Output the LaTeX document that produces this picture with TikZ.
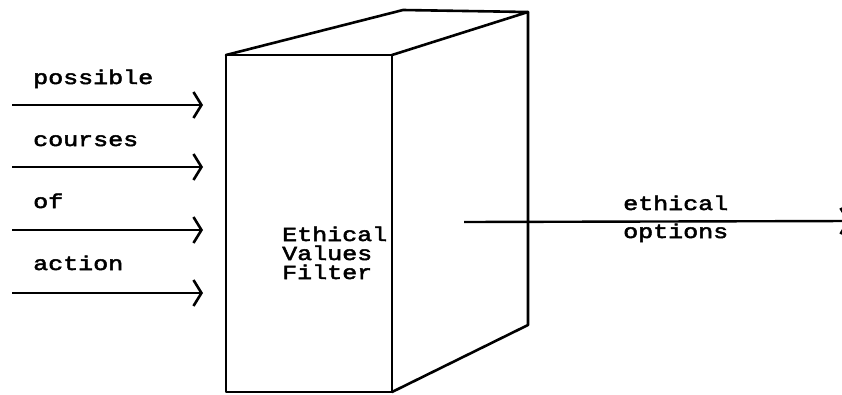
\documentclass[tikz,border=0pt]{standalone}
\usepackage{fontspec}
\newfontfamily\twfont[FakeStretch=1.25,FakeBold=2.5]{Liberation Mono}
\usetikzlibrary{arrows.meta}
\tikzset{
  edge/.style={line width=2.6pt, line cap=round, line join=round},
  inarrow/.style={line width=2.4pt, -{Straight Barb[length=8pt,width=26pt,line width=2.6pt]}},
  lbl/.style={inner sep=0pt, font=\twfont\fontsize{20}{19}\selectfont, anchor=base west},
}
\begin{document}
\begin{tikzpicture}[x=1pt,y=-1pt]
\useasboundingbox (0,0) rectangle (842,394);
% box corners
\coordinate (ftl) at (226,55);
\coordinate (ftr) at (392,55);
\coordinate (fbr) at (392,392);
\coordinate (fbl) at (226,392);
\coordinate (btl) at (403,10);
\coordinate (btr) at (528,12);
\coordinate (bbr) at (528,325);
\draw[edge] (ftl) -- (ftr) -- (fbr) -- (fbl) -- cycle;
\draw[edge] (ftl) -- (btl) -- (btr) -- (ftr);
\draw[edge] (btr) -- (bbr) -- (fbr);
% input arrows
\foreach \y/\n in {105/a1,167/a2,230/a3,293/a4}{
  \coordinate (\n s) at (12,\y);
  \coordinate (\n e) at (203,\y);
  \draw[inarrow] (\n s) -- (\n e);
}
\node[lbl] (l1) at (33,84) {possible};
\node[lbl] (l2) at (33,146) {courses};
\node[lbl] (l3) at (33,208) {of};
\node[lbl] (l4) at (33,270) {action};
% filter label
\node[lbl] (f1) at (282,241) {Ethical};
\node[lbl] (f2) at (282,260) {Values};
\node[lbl] (f3) at (282,279) {Filter};
% output
\coordinate (os) at (464,222);
\coordinate (oe) at (850,221);
\draw[inarrow] (os) -- (oe);
\node[lbl] (o1) at (623,210) {ethical};
\node[lbl] (o2) at (623,238) {options};
\end{tikzpicture}
\end{document}
